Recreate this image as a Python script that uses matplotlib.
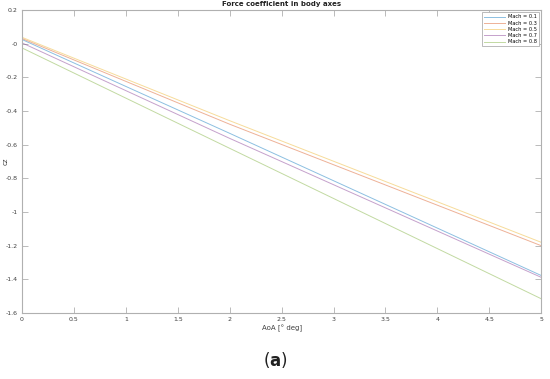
import numpy as np
import matplotlib
matplotlib.use("Agg")
import matplotlib.pyplot as plt

# AoA samples [deg] and cz
aoa = [0.0, 2.0, 5.0]
cz_m01 = [0.024, -0.533, -1.377]
cz_m03 = [0.030, -0.479, -1.200]
cz_m05 = [0.037, -0.458, -1.180]
cz_m07 = [0.004, -0.563, -1.388]
cz_m08 = [-0.026, -0.622, -1.515]

labels = ['Mach = 0.1', 'Mach = 0.3', 'Mach = 0.5', 'Mach = 0.7', 'Mach = 0.8']
series = [cz_m01, cz_m03, cz_m05, cz_m07, cz_m08]
colors = ['#0072BD', '#D95319', '#EDB120', '#7E2F8E', '#77AC30']

x_ticks = np.arange(0, 5.01, 0.5)
y_ticks = np.arange(-1.6, 0.21, 0.2)

fig = plt.figure(figsize=(5.5, 3.79), dpi=100)
ax = fig.add_axes([0.04, 0.174, 0.944, 0.8])

for y, lab, c in zip(series, labels, colors):
    ax.plot(aoa, y, color=c, alpha=0.45, linewidth=0.7, label=lab)

ax.set_xlim(0, 5)
ax.set_ylim(-1.6, 0.2)
ax.set_xticks(x_ticks)
ax.set_xticklabels([f'{v:g}' for v in x_ticks])
ax.set_yticks(y_ticks)
ax.set_yticklabels([f'{round(v, 1):g}' for v in y_ticks])

for s in ax.spines.values():
    s.set_color('#b0b0b0')
    s.set_linewidth(0.8)
ax.tick_params(direction='in', length=4, width=0.6, color='#b0b0b0',
               labelsize=4.5, labelcolor='#404040', top=True, right=True, pad=3)

ax.set_xlabel('AoA [° deg]', fontsize=5, color='#404040', labelpad=2)
ax.set_ylabel('cz', fontsize=5, color='#404040')
ax.yaxis.set_label_coords(-0.026, 0.5)
ax.set_title('Force coefficient in body axes', fontsize=5, fontweight='bold',
             color='#202020', pad=3)

leg = ax.legend(loc='upper right', fontsize=3.6, frameon=True, fancybox=False,
                edgecolor='#b0b0b0', framealpha=1.0, handlelength=4.2,
                handletextpad=0.6, borderaxespad=0.5, labelspacing=0.25,
                borderpad=0.4)
leg.get_frame().set_linewidth(0.6)

fig.text(0.5, 0.025, r'($\mathbf{a}$)', ha='center', va='bottom', fontsize=12,
         color='#202020')

fig.savefig('out.png', dpi=100)
